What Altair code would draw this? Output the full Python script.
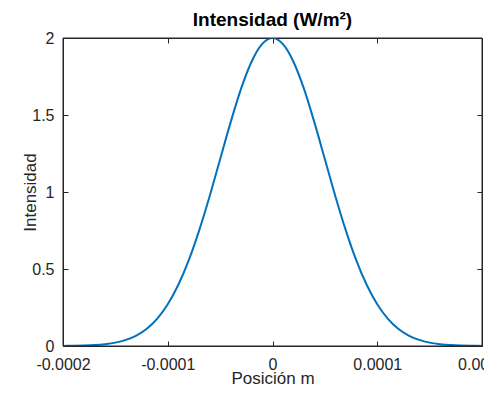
import altair as alt
import pandas as pd

positions = [-0.00020, -0.00019, -0.00018, -0.00017, -0.00016, -0.00015, -0.00014,
             -0.00013, -0.00012, -0.00011, -0.00010, -0.00009, -0.00008, -0.00007,
             -0.00006, -0.00005, -0.00004, -0.00003, -0.00002, -0.00001, 0.0,
             0.00001, 0.00002, 0.00003, 0.00004, 0.00005, 0.00006, 0.00007,
             0.00008, 0.00009, 0.00010, 0.00011, 0.00012, 0.00013, 0.00014,
             0.00015, 0.00016, 0.00017, 0.00018, 0.00019, 0.00020]
intensity = [0.0007, 0.0015, 0.0031, 0.0062, 0.012, 0.022, 0.040, 0.068, 0.112, 0.178,
             0.271, 0.396, 0.556, 0.751, 0.973, 1.213, 1.452, 1.671, 1.846, 1.960, 2.0,
             1.960, 1.846, 1.671, 1.452, 1.213, 0.973, 0.751, 0.556, 0.396, 0.271,
             0.178, 0.112, 0.068, 0.040, 0.022, 0.012, 0.0062, 0.0031, 0.0015, 0.0007]
x_ticks = [-0.0002, -0.0001, 0, 0.0001, 0.0002]
y_ticks = [0, 0.5, 1, 1.5, 2]

df = pd.DataFrame({"x": positions, "y": intensity})

FONT = "Liberation Sans"
AX = "#262626"
xs = alt.Scale(domain=[-0.0002, 0.0002], nice=False, zero=False)
ys = alt.Scale(domain=[0, 2], nice=False, zero=False)

common = dict(domain=False, grid=False, offset=-5, tickSize=5, tickColor=AX,
              tickWidth=1, labelFont=FONT, labelFontSize=16, labelColor=AX,
              titleFont=FONT, titleFontSize=17, titleFontWeight="normal",
              titleColor=AX)

main = alt.Chart(df).mark_line(color="#0072BD", strokeWidth=2,
                               interpolate="monotone", clip=True).encode(
    x=alt.X("x:Q", scale=xs, axis=alt.Axis(
        orient="bottom", title="Posición m", values=x_ticks,
        labelExpr="'' + datum.value", labelFlush=False, labelPadding=10,
        titleY=42, titleBaseline="alphabetic", titleAnchor="middle",
        **common)),
    y=alt.Y("y:Q", scale=ys, axis=alt.Axis(
        orient="left", title="Intensidad", values=y_ticks,
        labelExpr="'' + datum.value", labelFlush=False, labelPadding=9,
        titleX=-33, titleY=154, titleAngle=-90, titleAlign="center",
        titleBaseline="alphabetic", **common)),
)

frame = alt.Chart(df).mark_line(opacity=0).encode(
    x=alt.X("x:Q", scale=xs, axis=alt.Axis(
        orient="top", title=None, values=x_ticks, labels=False, **common)),
    y=alt.Y("y:Q", scale=ys, axis=alt.Axis(
        orient="right", title=None, values=y_ticks, labels=False, **common)),
)

box = alt.Chart(alt.Data(values=[{"k": 1}])).mark_rect(
    fill="transparent", stroke=AX, strokeWidth=1, opacity=1
).encode(x=alt.value(0), x2=alt.value("width"), y=alt.value(0), y2=alt.value("height"))

chart = alt.layer(main, frame, box).resolve_axis(
    x="independent", y="independent"
).properties(
    width=419, height=308,
    background="white",
    title=alt.TitleParams("Intensidad (W/m²)", font=FONT, fontSize=19,
                          fontWeight="bold", color="black", anchor="middle",
                          offset=0),
    autosize=alt.AutoSizeParams(type="none"),
    padding={"left": 55, "top": 30, "right": 2, "bottom": 40},
).configure_view(stroke=AX, strokeWidth=1)

chart.save("out.html", embed_options={"renderer": "svg", "actions": False})
